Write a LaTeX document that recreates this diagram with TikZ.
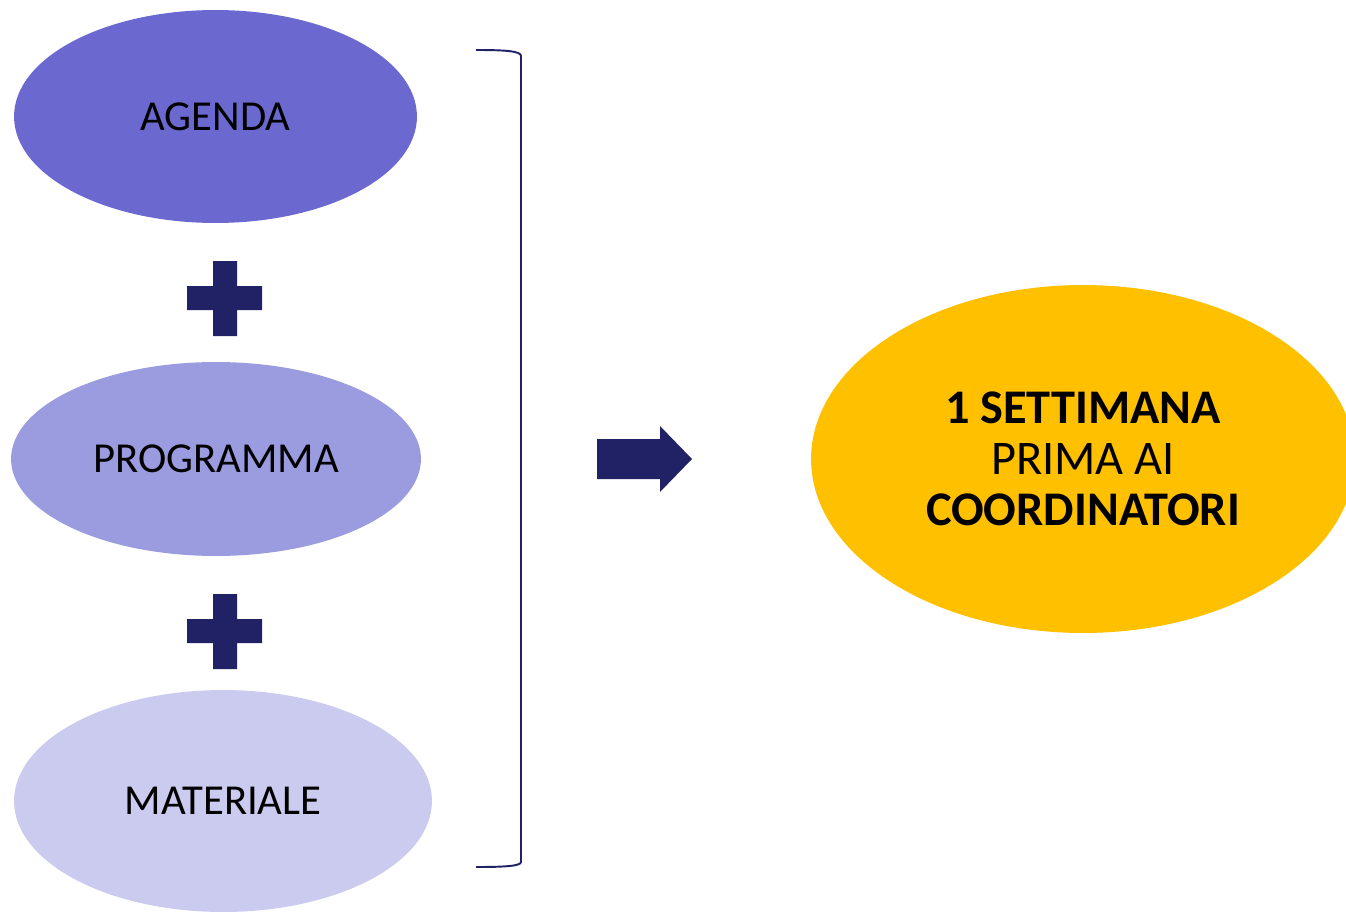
\documentclass[tikz,border=0pt]{standalone}
\usepackage{fontspec}
\setmainfont{Carlito}
\usetikzlibrary{shapes.geometric}
\definecolor{navy}{RGB}{33,33,101}
\definecolor{violetA}{RGB}{107,105,207}
\definecolor{violetB}{RGB}{155,155,223}
\definecolor{violetC}{RGB}{203,203,239}
\definecolor{gold}{RGB}{255,192,0}
\tikzset{bubble/.style={ellipse,inner sep=0pt,font=\fontsize{24.3}{29}\selectfont}}

\begin{document}
\begin{tikzpicture}[x=0.02cm,y=-0.02cm]
  \useasboundingbox (0,0) rectangle (1346,913);
  % steps
  \node[bubble,fill=violetA,minimum width=8.06cm,minimum height=4.26cm] (agenda) at (215.5,116.5) {AGENDA};
  \node[bubble,fill=violetB,minimum width=8.2cm,minimum height=3.88cm] (programma) at (216,459) {PROGRAMMA};
  \node[bubble,fill=violetC,minimum width=8.36cm,minimum height=4.44cm] (materiale) at (223,801) {MATERIALE};
  % plus signs
  \foreach \y in {298,631}
    \fill[navy] (187,\y-12) rectangle (262,\y+12) (213,\y-37) rectangle (237,\y+38);
  % bracket
  \draw[navy,line width=1.1pt] (476,50) .. controls (505,50) and (521,51) .. (521,56)
    -- (521,862) .. controls (521,866) and (505,867) .. (476,867);
  % arrow
  \fill[navy] (597,439) -- (660,439) -- (660,426) -- (692,459) -- (660,492) -- (660,479) -- (597,479) -- cycle;
  % result
  \node[bubble,fill=gold,minimum width=10.88cm,minimum height=6.96cm,align=center,
    font=\fontsize{27.5}{29.2}\selectfont] (settimana) at (1083,459)
    {\textbf{1 SETTIMANA}\\PRIMA AI\\\textbf{COORDINATORI}};
\end{tikzpicture}
\end{document}
